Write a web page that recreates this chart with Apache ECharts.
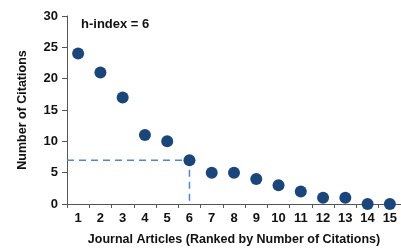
<!DOCTYPE html>
<html>
<head>
<meta charset="utf-8">
<script src="https://cdn.jsdelivr.net/npm/echarts@6/dist/echarts.min.js"></script>
<style>
  html, body { margin: 0; padding: 0; background: #fff; }
  #myChart { width: 401px; height: 251px; }
</style>
</head>
<body>
<div id="myChart"></div>
<script>
  // articles ranked by citations
  var articles = ['1','2','3','4','5','6','7','8','9','10','11','12','13','14','15'];
  var citations = [24, 21, 17, 11, 10, 7, 5, 5, 4, 3, 2, 1, 1, 0, 0];
  var hIndex = 6;
  var hValue = 7;
  var yTicks = [0, 5, 10, 15, 20, 25, 30];

  var font = 'Liberation Sans, Arial, sans-serif';
  var myChart = echarts.init(document.getElementById('myChart'));

  var option = {
    animation: false,
    textStyle: { fontFamily: font },
    title: {
      text: 'h-index = ' + hIndex,
      left: 76,
      top: 13,
      textStyle: { fontSize: 13, fontWeight: 'bold', color: '#111', fontFamily: font }
    },
    grid: { left: 67, right: 0, top: 16, bottom: 45 },
    xAxis: [
      {
        type: 'category',
        data: articles,
        name: 'Journal Articles (Ranked by Number of Citations)',
        nameLocation: 'middle',
        nameGap: 29,
        nameTextStyle: { fontSize: 12.5, fontWeight: 'bold', color: '#111', fontFamily: font },
        axisLine: { lineStyle: { color: '#555', width: 1 } },
        axisTick: { show: true, length: 4, lineStyle: { color: '#555' } },
        axisLabel: { fontSize: 13, fontWeight: 'bold', color: '#111', margin: 8 },
        splitLine: { show: false }
      },
      {
        type: 'value',
        min: 0.5,
        max: articles.length + 0.5,
        show: false
      }
    ],
    yAxis: {
      type: 'value',
      min: yTicks[0],
      max: yTicks[yTicks.length - 1],
      interval: 5,
      name: 'Number of Citations',
      nameLocation: 'middle',
      nameGap: 38,
      nameRotate: 90,
      nameTextStyle: { fontSize: 12.5, fontWeight: 'bold', color: '#111', fontFamily: font },
      axisLine: { show: true, lineStyle: { color: '#555', width: 1 } },
      axisTick: { show: true, length: 5, lineStyle: { color: '#555' } },
      axisLabel: { fontSize: 13, fontWeight: 'bold', color: '#111', margin: 9 },
      splitLine: { show: false }
    },
    series: [
      {
        type: 'line',
        xAxisIndex: 1,
        data: [[0.5, hValue], [hIndex, hValue], [hIndex, 0]],
        symbol: 'none',
        lineStyle: { color: '#4f88cc', width: 1.5, type: [7, 5] },
        z: 1
      },
      {
        type: 'scatter',
        data: citations,
        symbolSize: 12,
        itemStyle: { color: '#1b467c', opacity: 1 },
        z: 3
      }
    ]
  };
  myChart.setOption(option, true);
</script>
</body>
</html>
